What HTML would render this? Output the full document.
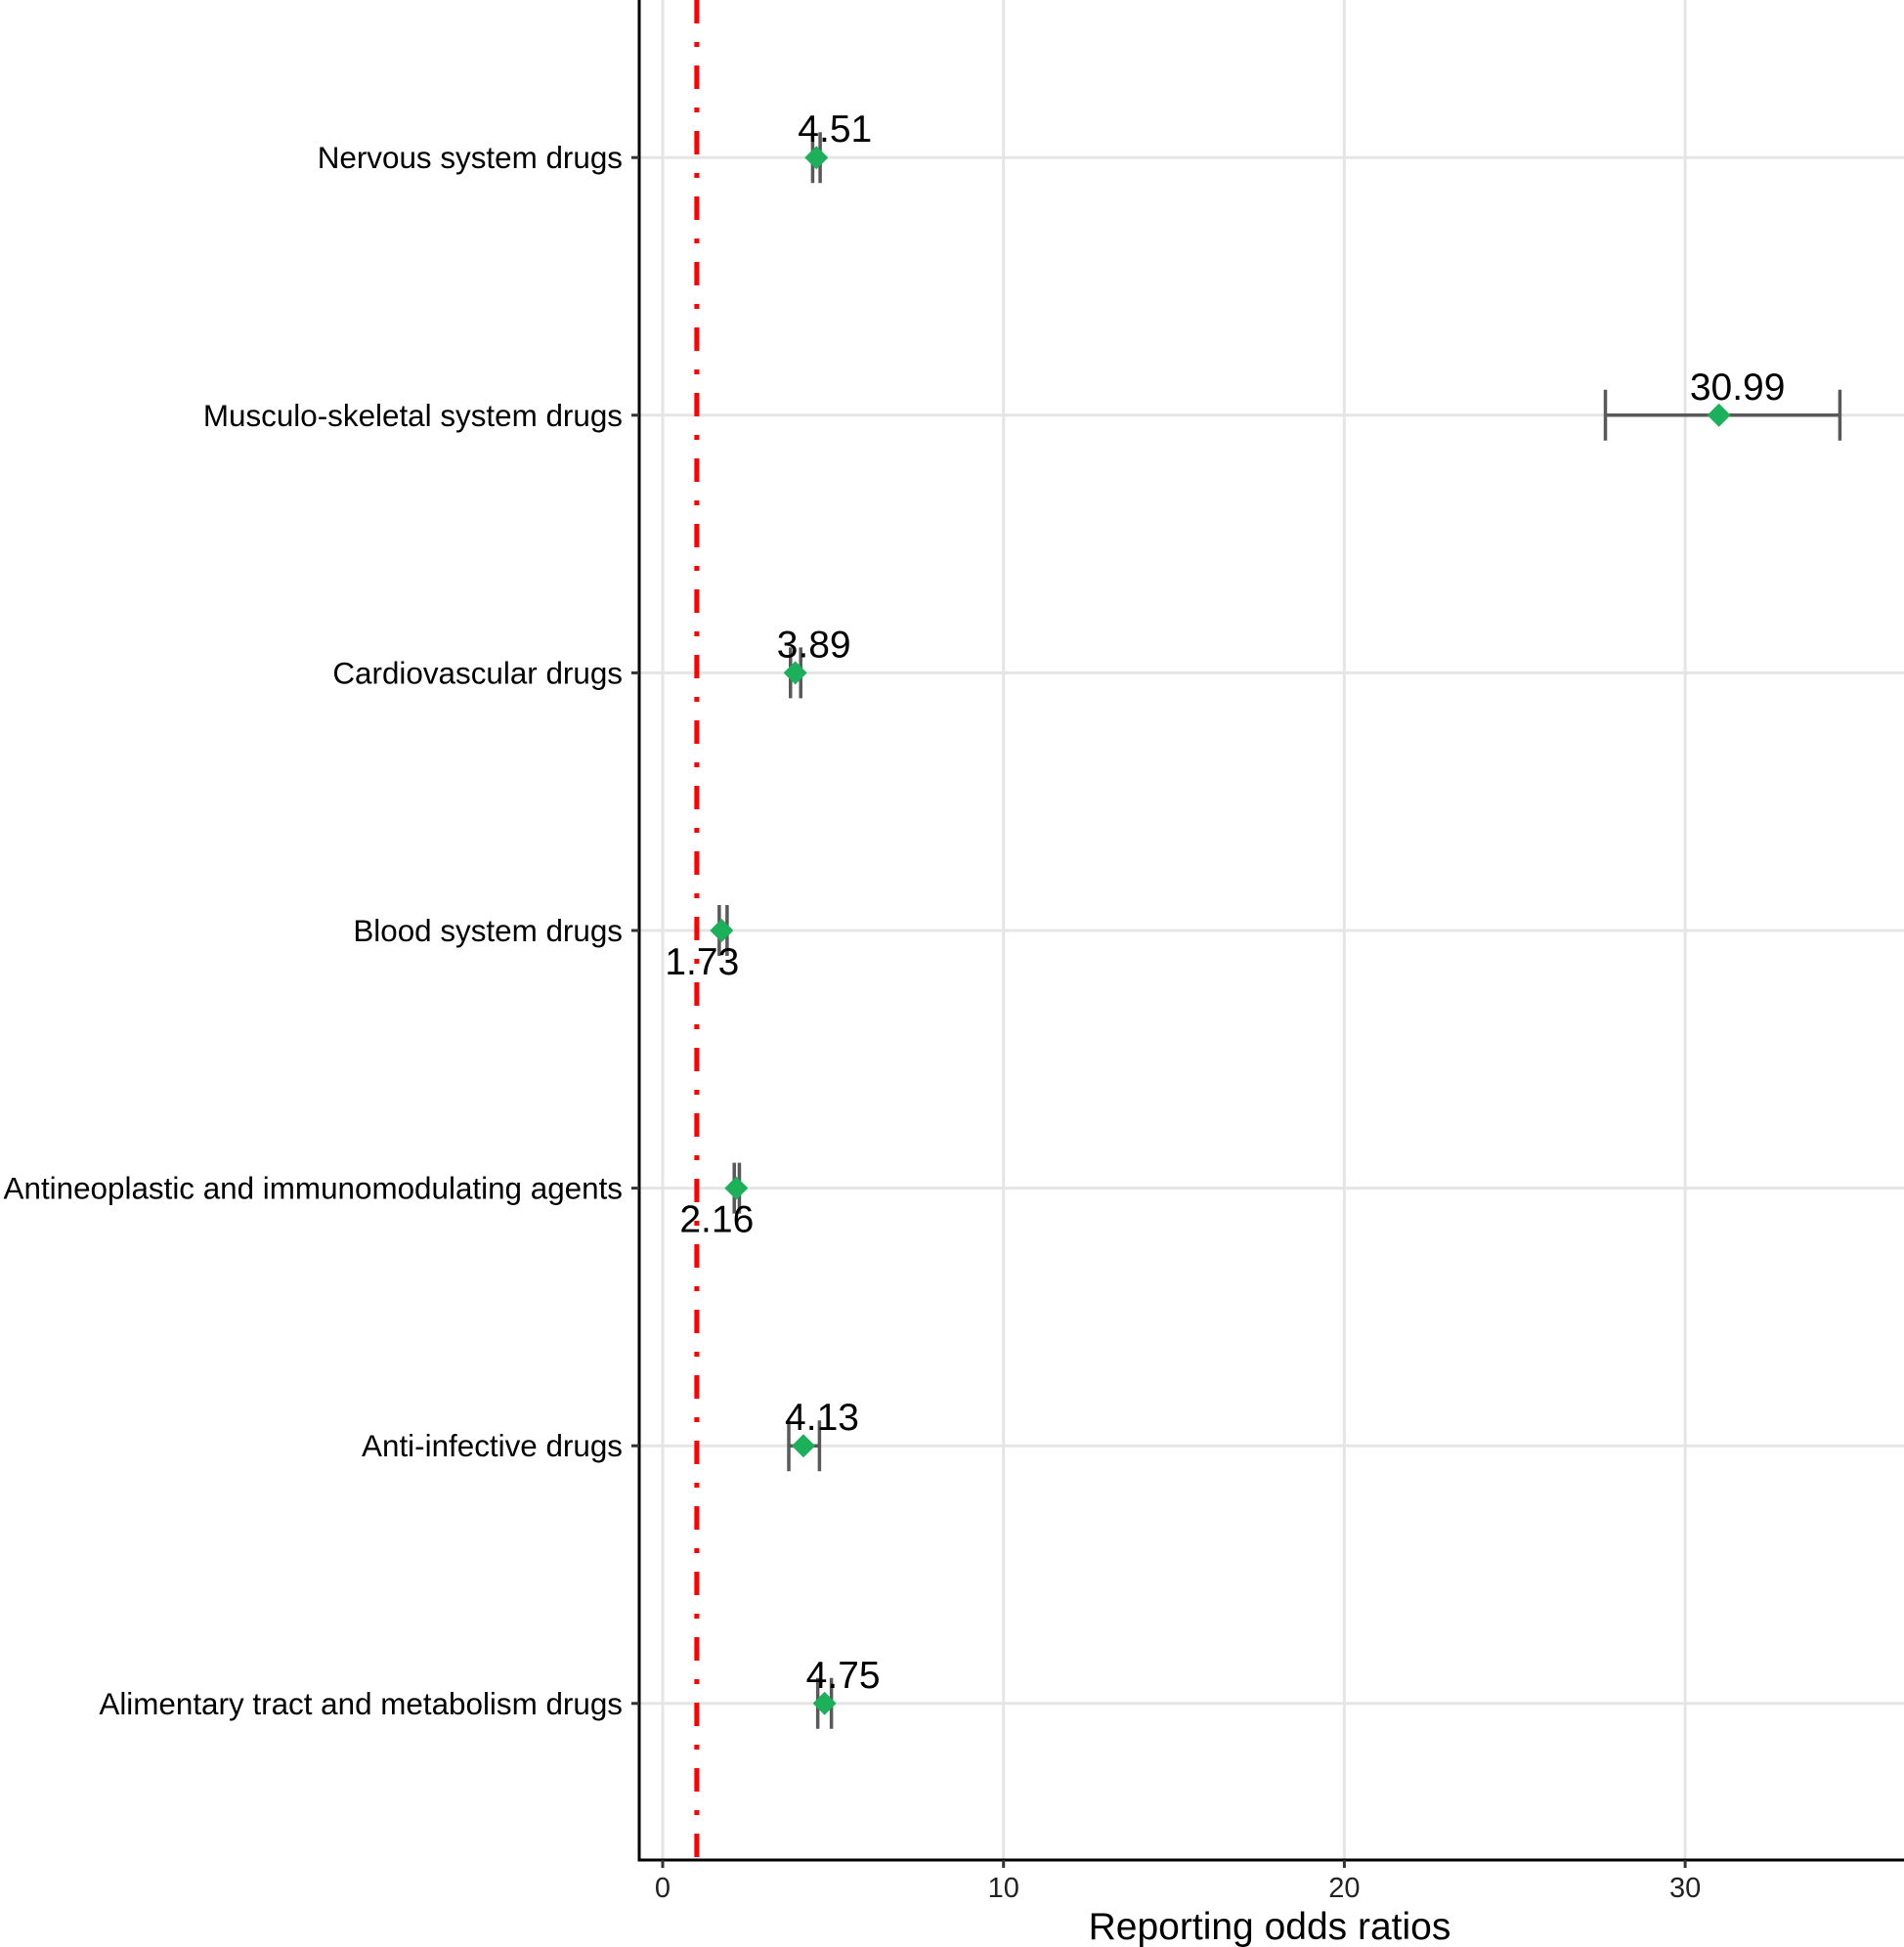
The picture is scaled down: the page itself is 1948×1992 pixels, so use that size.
<!DOCTYPE html>
<html><head><meta charset="utf-8"><style>
body{margin:0;background:#fff}
svg{display:block;font-family:"Liberation Sans",Arial,sans-serif}
</style></head><body>
<svg id="chart" width="1948" height="1992" viewBox="0 0 1948 1992"></svg>
<script>
const categories=["Nervous system drugs","Musculo-skeletal system drugs","Cardiovascular drugs","Blood system drugs","Antineoplastic and immunomodulating agents","Anti-infective drugs","Alimentary tract and metabolism drugs"];
const rorValues=[4.51,30.99,3.89,1.73,2.16,4.13,4.75];
const ciLower=[4.40,27.66,3.75,1.66,2.10,3.70,4.55];
const ciUpper=[4.62,34.54,4.05,1.89,2.25,4.60,4.95];
const labelSide=["above","above","above","below","below","above","above"];
const xTicks=[0,10,20,30];
const refValue=1;

const svg=document.getElementById('chart');
const NS='http://www.w3.org/2000/svg';
const x0=678,k=34.87;
const xs=v=>x0+v*k;
const rowTop=161.2,rowStep=263.6;
const ys=i=>rowTop+i*rowStep;
const plotL=654,plotR=1948,plotB=1903;
function mk(t,a){const e=document.createElementNS(NS,t);for(const n in a)e.setAttribute(n,a[n]);svg.appendChild(e);return e;}

xTicks.forEach(t=>{const g=mk('line',{x1:xs(t),x2:xs(t),y1:0,y2:plotB,stroke:'#e5e5e5','stroke-width':3});

});
categories.forEach((c,i)=>{const g=mk('line',{x1:plotL,x2:plotR,y1:ys(i),y2:ys(i),stroke:'#e5e5e5','stroke-width':3});

});
const r=mk('line',{x1:xs(refValue),x2:xs(refValue),y1:0,y2:plotB,stroke:'#ff0000','stroke-width':5,'stroke-dasharray':'24 19 5 19'});


const ax=mk('line',{x1:plotL,x2:plotL,y1:0,y2:plotB+1.5,stroke:'#000','stroke-width':3});


const bx=mk('line',{x1:plotL-1.5,x2:plotR,y1:plotB,y2:plotB,stroke:'#000','stroke-width':3});


xTicks.forEach(t=>{const tk=mk('line',{x1:xs(t),x2:xs(t),y1:plotB,y2:plotB+8,stroke:'#333','stroke-width':3});


const tl=mk('text',{x:xs(t),y:plotB+38,'text-anchor':'middle','font-size':29,fill:'#222'});tl.textContent=t;

});
const at=mk('text',{x:1299,y:1984,'text-anchor':'middle','font-size':39,fill:'#000'});at.textContent='Reporting odds ratios';


categories.forEach((c,i)=>{const y=ys(i);
const tk=mk('line',{x1:plotL-8,x2:plotL,y1:y,y2:y,stroke:'#333','stroke-width':3});


const cl=mk('text',{x:637,y:y+11,'text-anchor':'end','font-size':31.4,fill:'#000'});cl.textContent=c;


const lo=xs(ciLower[i]),hi=xs(ciUpper[i]);
const eb=mk('path',{d:`M${lo},${y-26}V${y+26}M${hi},${y-26}V${y+26}M${lo},${y}H${hi}`,stroke:'#595959','stroke-width':3.5,fill:'none'});


const px=xs(rorValues[i]);
const d=mk('path',{d:`M${px},${y-12}L${px+12},${y}L${px},${y+12}L${px-12},${y}Z`,fill:'#1db05a'});


const above=labelSide[i]==='above';
const lx=px+(above?19:-20), ly=above?y-16:y+45;
const vl=mk('text',{x:lx,y:ly,'text-anchor':'middle','font-size':39,fill:'#000'});vl.textContent=rorValues[i].toFixed(2);


});
</script>
</body></html>
